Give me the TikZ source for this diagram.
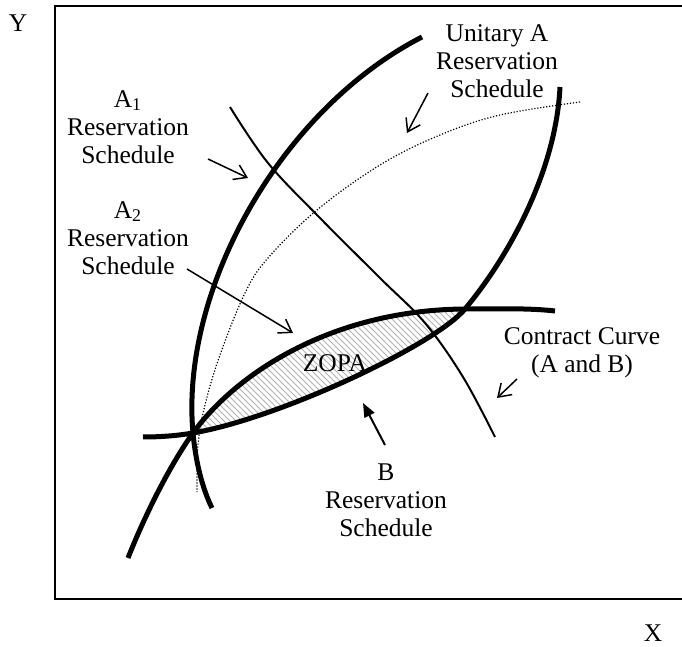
\documentclass[tikz,border=0pt]{standalone}
\usepackage{fontspec}
\setmainfont{Liberation Serif}
\usetikzlibrary{arrows.meta,patterns}

\begin{document}
\begin{tikzpicture}[%
    x=0.5pt, y=-0.5pt,
    axisbox/.style={line width=1pt},
    schedule/.style={line width=2.5pt},
    contractline/.style={line width=1pt},
    unitaryline/.style={line width=0.6pt, dash pattern=on 0.6pt off 0.9pt},
    txt/.style={align=center, inner sep=0pt, font=\fontsize{12.75}{14}\selectfont},
    pointer/.style={line width=0.75pt, -{Straight Barb[length=6pt,width=8pt]}},
    bpointer/.style={line width=1pt, -{Triangle[length=7pt,width=5.5pt]}},
    zopafill/.style={pattern=north west lines, pattern color=gray!60}
]
\useasboundingbox (0,0) rectangle (682,647);

% frame, open on the right
\draw[axisbox] (682,6) -- (55,6) -- (55,599) -- (682,599);
\node[txt] (ylabel) at (18,23) {Y};
\node[txt] (xlabel) at (653,633) {X};

% zone of possible agreement
\fill[zopafill] (193,433) .. controls (235,375) and (330,310) .. (465,309)
    .. controls (435,345) and (280,418) .. (193,433);

% reservation schedules
\draw[schedule] (422,37) .. controls (280,110) and (180,290) .. (193,433)
    .. controls (195.7,463) and (203,490) .. (212,508);
\draw[schedule] (128,558) .. controls (145,515) and (170,465) .. (193,433)
    .. controls (235,375) and (330,310) .. (465,309)
    .. controls (495,308.8) and (530,308) .. (555,311);
\draw[schedule] (143,437) .. controls (155,437) and (173,436.4) .. (193,433)
    .. controls (280,418) and (435,345) .. (465,309)
    .. controls (510,255) and (556,170) .. (560,87);

\draw[unitaryline] plot[smooth, tension=0.6] coordinates {(580,102) (500,115) (440,135)
    (380,165) (317,210) (268,258) (245,293) (220,355) (205,405) (198,445) (197,492)};
\draw[contractline] plot[smooth, tension=0.6] coordinates {(230,107) (268,163) (320,218)
    (380,278) (425,323) (463,377) (495,437)};

% labels
\node[txt] (aone) at (128,127) {A\textsubscript{1}\\Reservation\\Schedule};
\node[txt] (atwo) at (128,238) {A\textsubscript{2}\\Reservation\\Schedule};
\node[txt] (unitary) at (497,61) {Unitary A\\Reservation\\Schedule};
\node[txt] (contract) at (582,353) {Contract Curve\\(A and B)};
\node[txt] (blabel) at (386,500) {B\\Reservation\\Schedule};
\node[txt] (zopa) at (335,363) {ZOPA};

% pointers
\coordinate (aonetail) at (208,159);
\coordinate (aonetip) at (248,178);
\coordinate (atwotail) at (187,269);
\coordinate (atwotip) at (293,333);
\coordinate (unitarytail) at (428,93);
\coordinate (unitarytip) at (407,133);
\coordinate (contracttail) at (517,379);
\coordinate (contracttip) at (497,398);
\coordinate (btail) at (385,445);
\coordinate (btip) at (363,403);

\draw[pointer] (aonetail) -- (aonetip);
\draw[pointer] (atwotail) -- (atwotip);
\draw[pointer] (unitarytail) -- (unitarytip);
\draw[pointer] (contracttail) -- (contracttip);
\draw[bpointer] (btail) -- (btip);

\end{tikzpicture}
\end{document}
